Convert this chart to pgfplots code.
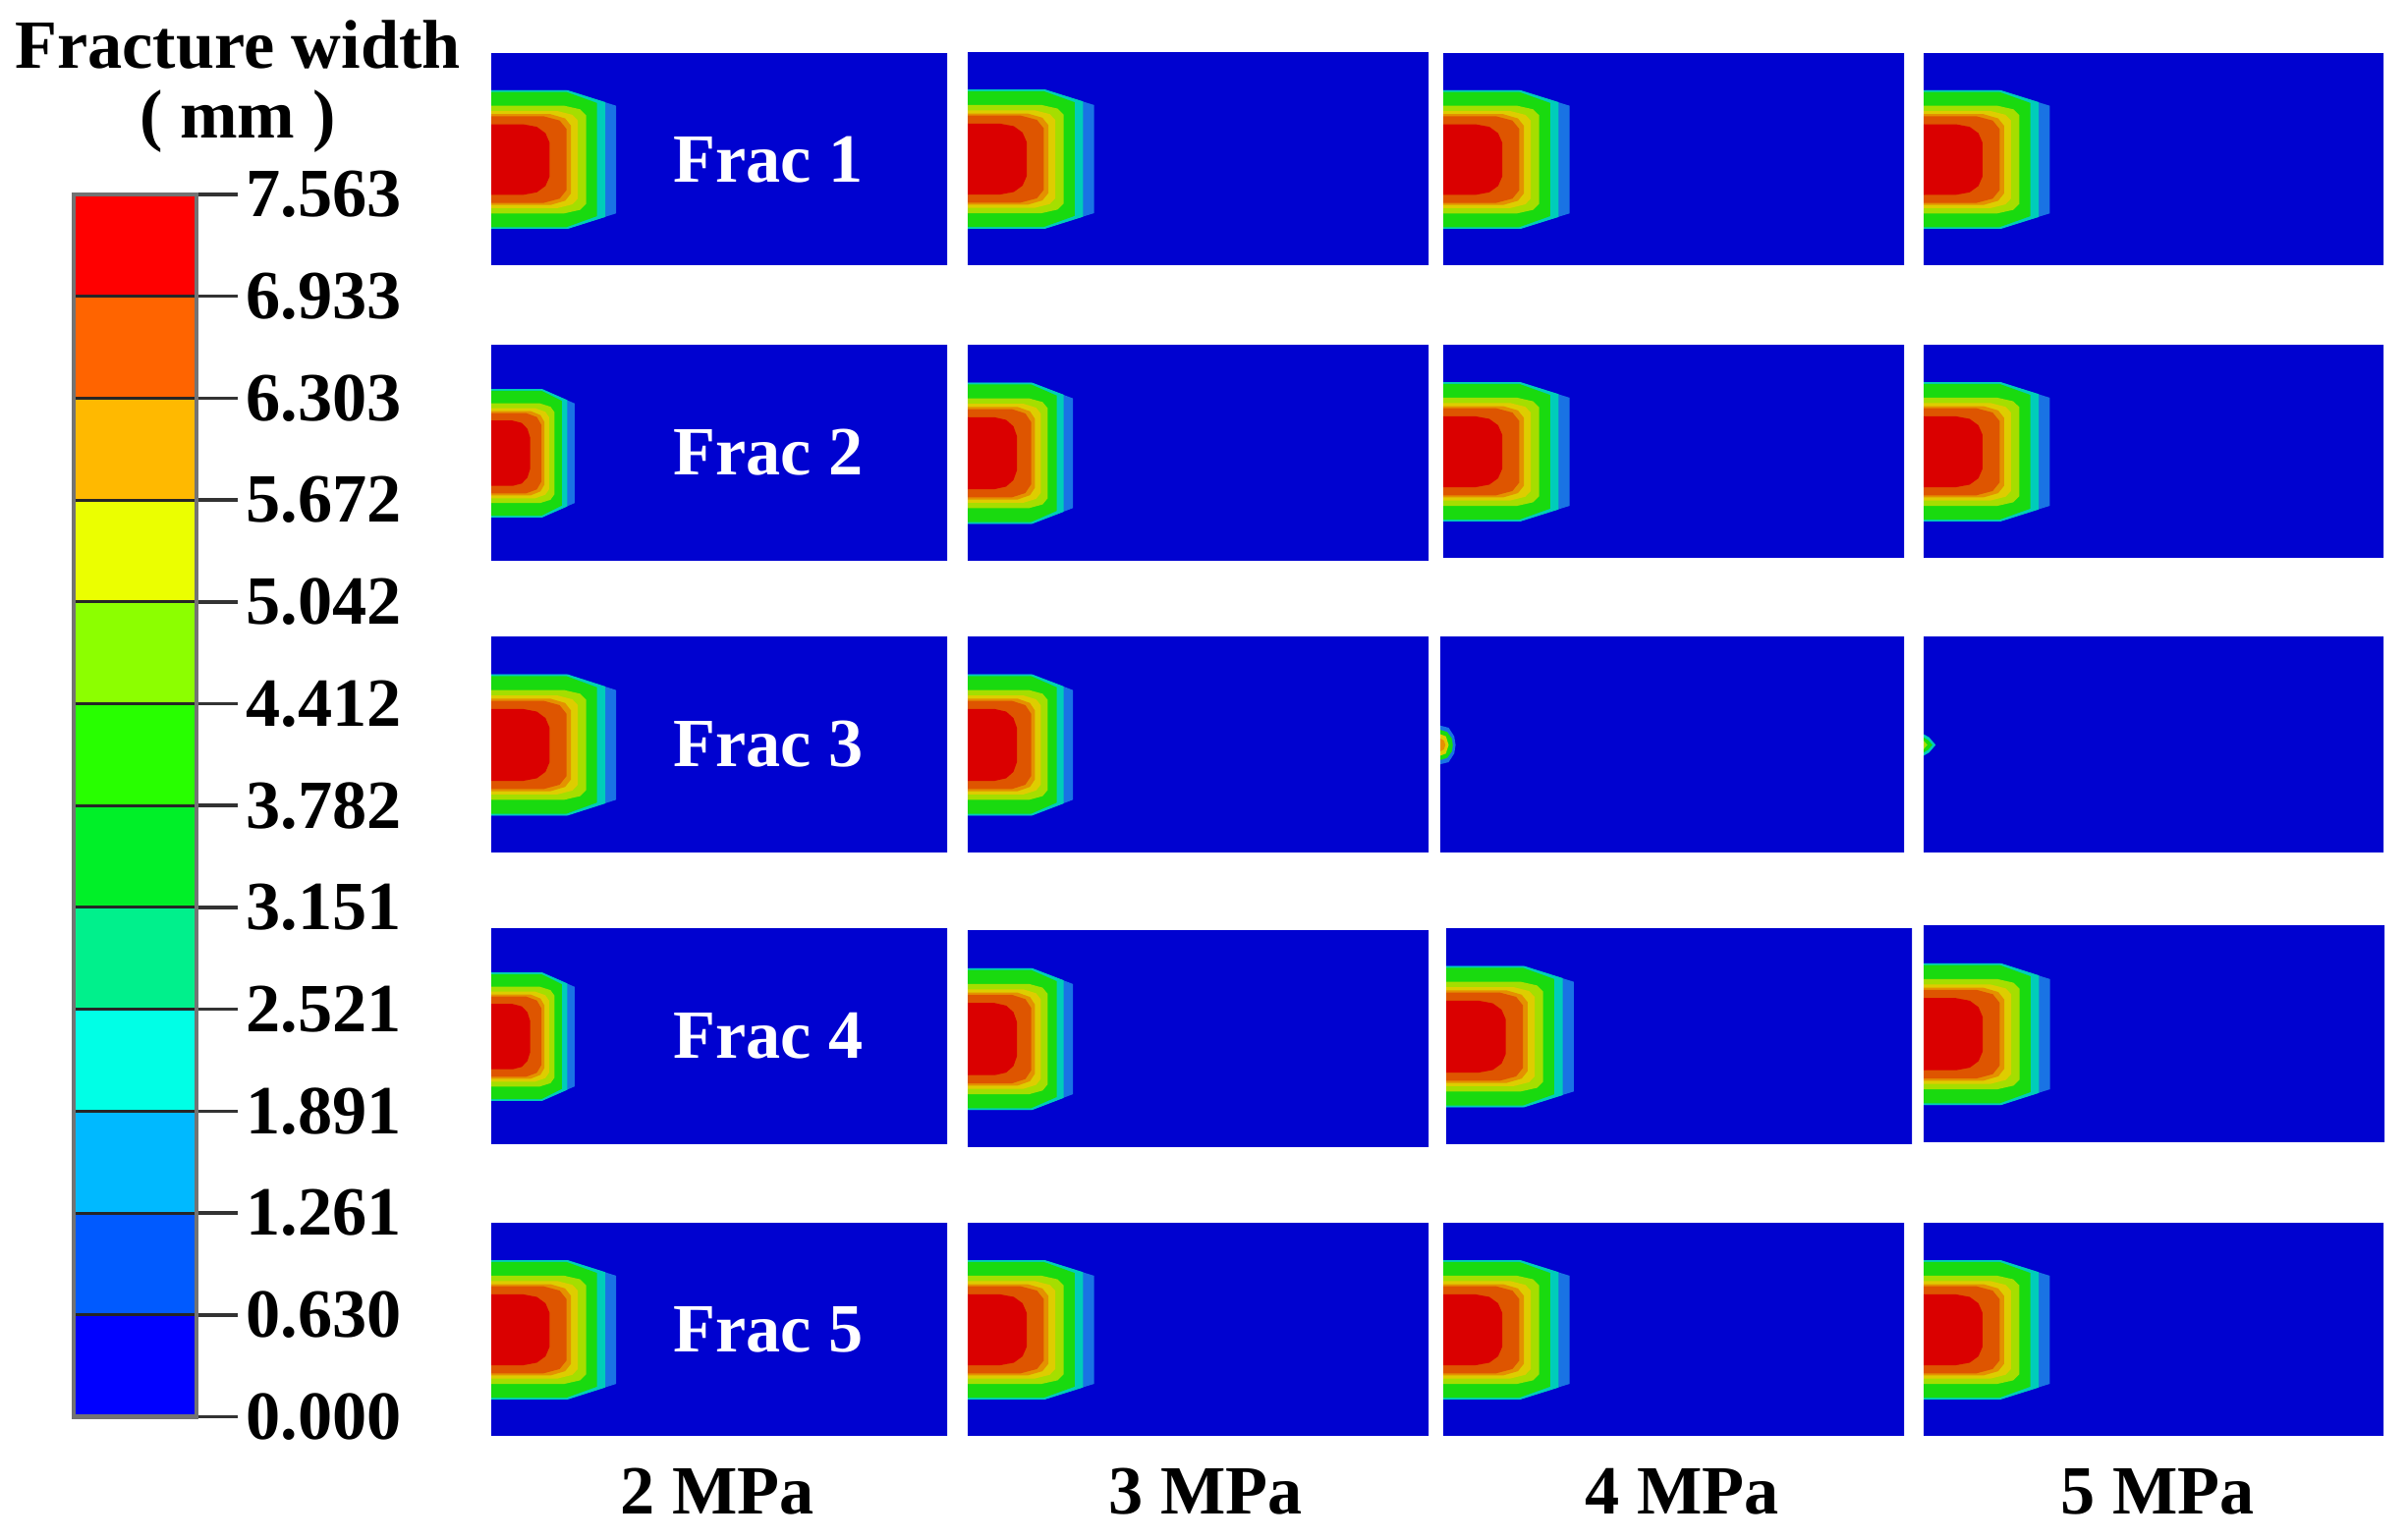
\documentclass[border=0pt]{standalone}
\usepackage{pgfplots}
\pgfplotsset{compat=1.18}
\usepackage{fontspec}
\setmainfont{Liberation Serif}
\newcommand\tl{\fontsize{20}{24}\selectfont\bfseries}
% panel colours
\definecolor{bgb}{RGB}{0,2,208}
\definecolor{pLB}{RGB}{25,115,228}
\definecolor{pCY}{RGB}{0,205,185}
\definecolor{pGR}{RGB}{25,218,15}
\definecolor{pYG}{RGB}{165,222,0}
\definecolor{pYE}{RGB}{222,205,0}
\definecolor{pOR}{RGB}{228,145,0}
\definecolor{pDO}{RGB}{222,85,0}
\definecolor{pRE}{RGB}{218,0,0}
% colorbar colours
\definecolor{cb1}{RGB}{0,0,255}
\definecolor{cb2}{RGB}{0,90,255}
\definecolor{cb3}{RGB}{0,185,255}
\definecolor{cb4}{RGB}{0,255,230}
\definecolor{cb5}{RGB}{0,240,140}
\definecolor{cb6}{RGB}{0,240,40}
\definecolor{cb7}{RGB}{40,255,0}
\definecolor{cb8}{RGB}{140,255,0}
\definecolor{cb9}{RGB}{235,255,0}
\definecolor{cb10}{RGB}{255,185,0}
\definecolor{cb11}{RGB}{255,100,0}
\definecolor{cb12}{RGB}{255,0,0}
\pgfplotsset{panel/.style={scale only axis, anchor=south west, xmin=0, xmax=1, ymin=0, ymax=1, hide axis}}
\newcommand{\bg}{\addplot[fill=bgb,draw=none] coordinates {(-1,-1) (3,-1) (3,2) (-1,2)} -- cycle;}
% contour bands of the fracture-width field (relative panel coordinates)
\newcommand{\shape}{%
\addplot[fill=pLB,draw=none] coordinates {(0,0.172) (0.165,0.172) (0.274,0.245) (0.274,0.755) (0.165,0.828) (0,0.828)} -- cycle;
\addplot[fill=pCY,draw=none] coordinates {(0,0.172) (0.168,0.172) (0.25,0.228) (0.25,0.772) (0.168,0.828) (0,0.828)} -- cycle;
\addplot[fill=pGR,draw=none] coordinates {(0,0.18) (0.165,0.18) (0.232,0.232) (0.232,0.768) (0.165,0.82) (0,0.82)} -- cycle;
\addplot[fill=pYG,draw=none] coordinates {(0,0.245) (0.16,0.245) (0.195,0.262) (0.208,0.29) (0.208,0.71) (0.195,0.738) (0.16,0.755) (0,0.755)} -- cycle;
\addplot[fill=pYE,draw=none] coordinates {(0,0.27) (0.145,0.27) (0.178,0.288) (0.19,0.315) (0.19,0.685) (0.178,0.712) (0.145,0.73) (0,0.73)} -- cycle;
\addplot[fill=pOR,draw=none] coordinates {(0,0.285) (0.13,0.285) (0.162,0.305) (0.175,0.34) (0.175,0.66) (0.162,0.695) (0.13,0.715) (0,0.715)} -- cycle;
\addplot[fill=pDO,draw=none] coordinates {(0,0.295) (0.115,0.295) (0.15,0.315) (0.165,0.355) (0.165,0.645) (0.15,0.685) (0.115,0.705) (0,0.705)} -- cycle;
\addplot[fill=pRE,draw=none] coordinates {(0,0.333) (0.07,0.333) (0.1,0.345) (0.119,0.375) (0.128,0.42) (0.128,0.58) (0.119,0.625) (0.1,0.655) (0.07,0.667) (0,0.667)} -- cycle;
}
\newcommand{\blobA}{%
\addplot[fill=pLB,draw=none] coordinates {(0,0.41) (0.018,0.42) (0.03,0.46) (0.033,0.5) (0.03,0.54) (0.018,0.58) (0,0.59)} -- cycle;
\addplot[fill=pGR,draw=none] coordinates {(0,0.43) (0.015,0.44) (0.025,0.47) (0.027,0.5) (0.025,0.53) (0.015,0.56) (0,0.57)} -- cycle;
\addplot[fill=pYE,draw=none] coordinates {(0,0.45) (0.012,0.46) (0.018,0.5) (0.012,0.54) (0,0.55)} -- cycle;
\addplot[fill=pOR,draw=none] coordinates {(0,0.47) (0.008,0.48) (0.011,0.5) (0.008,0.52) (0,0.53)} -- cycle;
}
\newcommand{\blobB}{%
\addplot[fill=pCY,draw=none] coordinates {(0,0.45) (0.012,0.465) (0.026,0.5) (0.012,0.535) (0,0.55)} -- cycle;
\addplot[fill=pGR,draw=none] coordinates {(0,0.465) (0.01,0.478) (0.019,0.5) (0.01,0.522) (0,0.535)} -- cycle;
\addplot[fill=pYG,draw=none] coordinates {(0,0.48) (0.008,0.5) (0,0.52)} -- cycle;
}
\newcommand{\pan}[6]{\begin{axis}[panel,at={(#1mm,#2mm)},width=#3mm,height=#4mm,#5]\bg #6\end{axis}}
\begin{document}
\begin{tikzpicture}
\path[use as bounding box] (0,0) rectangle (245.1mm,156.8mm);
% colour bar
\begin{axis}[at={(7.5mm,12.55mm)}, anchor=south west, scale only axis,
  width=12.5mm, height=124.45mm, xmin=0, xmax=1, ymin=0, ymax=12,
  xtick=\empty, ytick={0,1,...,12},
  yticklabels={0.000,0.630,1.261,1.891,2.521,3.151,3.782,4.412,5.042,5.672,6.303,6.933,7.563},
  ytick pos=right, tick align=outside, major tick length=4.2mm,
  tick style={black!80, line width=0.35mm},
  axis line style={black!55, line width=0.45mm}, axis on top,
  yticklabel style={font=\tl, anchor=west, inner sep=0pt, xshift=0.8mm}]
\addplot[fill=cb1,draw=black!85,line width=0.3mm] coordinates {(0,0) (1,0) (1,1) (0,1)} -- cycle;
\addplot[fill=cb2,draw=black!85,line width=0.3mm] coordinates {(0,1) (1,1) (1,2) (0,2)} -- cycle;
\addplot[fill=cb3,draw=black!85,line width=0.3mm] coordinates {(0,2) (1,2) (1,3) (0,3)} -- cycle;
\addplot[fill=cb4,draw=black!85,line width=0.3mm] coordinates {(0,3) (1,3) (1,4) (0,4)} -- cycle;
\addplot[fill=cb5,draw=black!85,line width=0.3mm] coordinates {(0,4) (1,4) (1,5) (0,5)} -- cycle;
\addplot[fill=cb6,draw=black!85,line width=0.3mm] coordinates {(0,5) (1,5) (1,6) (0,6)} -- cycle;
\addplot[fill=cb7,draw=black!85,line width=0.3mm] coordinates {(0,6) (1,6) (1,7) (0,7)} -- cycle;
\addplot[fill=cb8,draw=black!85,line width=0.3mm] coordinates {(0,7) (1,7) (1,8) (0,8)} -- cycle;
\addplot[fill=cb9,draw=black!85,line width=0.3mm] coordinates {(0,8) (1,8) (1,9) (0,9)} -- cycle;
\addplot[fill=cb10,draw=black!85,line width=0.3mm] coordinates {(0,9) (1,9) (1,10) (0,10)} -- cycle;
\addplot[fill=cb11,draw=black!85,line width=0.3mm] coordinates {(0,10) (1,10) (1,11) (0,11)} -- cycle;
\addplot[fill=cb12,draw=black!85,line width=0.3mm] coordinates {(0,11) (1,11) (1,12) (0,12)} -- cycle;
\end{axis}
\node[font=\tl, inner sep=0pt] at (24.2mm,152.2mm) {Fracture width};
\node[font=\tl, inner sep=0pt] at (24.2mm,144.4mm) {( mm )};
% row 1
\pan{50.0}{129.8}{46.4}{21.5}{}{\shape}
\pan{98.5}{129.8}{46.9}{21.6}{}{\shape}
\pan{146.9}{129.8}{46.9}{21.5}{}{\shape}
\pan{195.8}{129.8}{46.8}{21.5}{}{\shape}
% row 2
\pan{50.0}{99.7}{46.4}{21.9}{xmax=1.5,ymin=-0.05,ymax=1.05}{\shape}
\pan{98.5}{99.7}{46.9}{21.9}{xmax=1.2}{\shape}
\pan{146.9}{100.0}{46.9}{21.6}{}{\shape}
\pan{195.8}{100.0}{46.8}{21.6}{}{\shape}
% row 3
\pan{50.0}{70.0}{46.4}{21.9}{}{\shape}
\pan{98.5}{70.0}{46.9}{21.9}{xmax=1.2}{\shape}
\pan{146.6}{70.0}{47.2}{21.9}{}{\blobA}
\pan{195.8}{70.0}{46.8}{21.9}{}{\blobB}
% row 4
\pan{50.0}{40.3}{46.4}{21.9}{xmax=1.5,ymin=-0.05,ymax=1.05}{\shape}
\pan{98.5}{40.0}{46.9}{22.0}{xmax=1.2}{\shape}
\pan{147.2}{40.3}{47.4}{21.9}{}{\shape}
\pan{195.8}{40.5}{46.9}{22.0}{}{\shape}
% row 5
\pan{50.0}{10.6}{46.4}{21.6}{}{\shape}
\pan{98.5}{10.6}{46.9}{21.6}{}{\shape}
\pan{146.9}{10.6}{46.9}{21.6}{}{\shape}
\pan{195.8}{10.6}{46.8}{21.6}{}{\shape}
% labels
\foreach \r/\yy in {1/140.55,2/110.7,3/81.0,4/51.3,5/21.4}
  \node[font=\tl, text=white, inner sep=0pt] at (78.2mm,\yy mm) {Frac \r};
\node[font=\tl, inner sep=0pt] at (73.0mm,4.9mm) {2 MPa};
\node[font=\tl, inner sep=0pt] at (122.7mm,4.9mm) {3 MPa};
\node[font=\tl, inner sep=0pt] at (171.2mm,4.9mm) {4 MPa};
\node[font=\tl, inner sep=0pt] at (219.6mm,4.9mm) {5 MPa};
\end{tikzpicture}
\end{document}
